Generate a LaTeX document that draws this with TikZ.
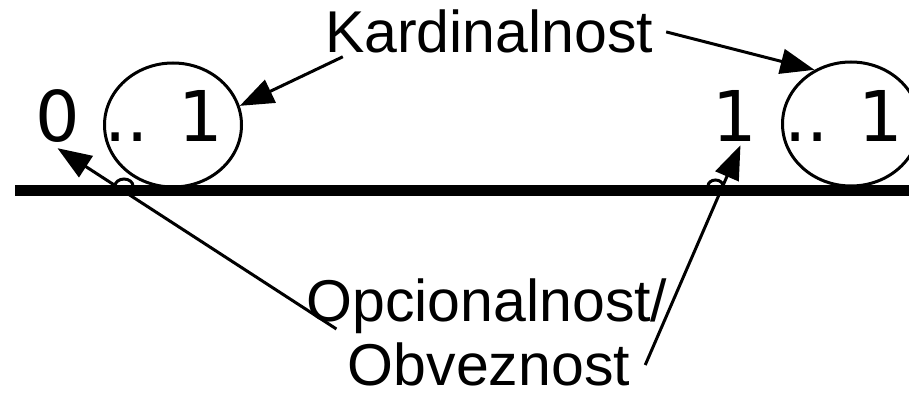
\documentclass[tikz,border=0pt]{standalone}
\usepackage{fontspec}
\setmainfont{Liberation Sans}
\newfontfamily\digitfont{DejaVu Sans}
\usetikzlibrary{arrows.meta,shapes.geometric}

\tikzset{
  label text/.style={inner sep=0pt, font=\fontsize{59}{65}\selectfont},
  digit text/.style={inner sep=0pt, anchor=base west, font=\digitfont\fontsize{70}{70}\selectfont},
  ring/.style={ellipse, draw, line width=3pt, inner sep=0pt,
               minimum width=137pt, minimum height=124pt},
  pointer/.style={line width=3pt, -{Triangle[length=34pt,width=25pt]}},
  hop/.style={line width=3pt},
  bar/.style={line width=11pt}
}

\begin{document}
\begin{tikzpicture}[x=1pt,y=-1pt]
  \useasboundingbox (0,0) rectangle (909,395);

  % relationship line
  \coordinate (lineA) at (15,191);
  \coordinate (lineB) at (915,191);
  \draw[bar] (lineA) -- (lineB);

  % cardinality rings
  \node[ring] (cardL) at (173,125) {};
  \node[ring] (cardR) at (851,124) {};

  % multiplicity texts
  \node[digit text] (zeroL) at (35,142) {0};
  \node[digit text] (cardLtxt) at (104.5,142) {.. 1};
  \node[digit text] (oneR) at (712,142) {1};
  \node[digit text] (cardRtxt) at (784.5,142) {.. 1};

  % labels
  \node[label text, anchor=base] (kard) at (489,53) {Kardinalnost};
  \node[label text, anchor=base] (opc1) at (487,321) {Opcionalnost/};
  \node[label text, anchor=base] (opc2) at (489,385) {Obveznost};

  % pointers
  \draw[pointer] ([xshift=18pt,yshift=-3pt]kard.south west) -- (cardL.16);
  \draw[pointer] ([xshift=13pt]kard.east) -- (cardR.124);
  \draw[pointer] ([xshift=30pt,yshift=-8pt]opc1.base west) -- ([yshift=-5pt]zeroL.south);
  \draw[pointer] ([xshift=15pt,yshift=20pt]opc2.base east) -- ([xshift=6pt,yshift=-3pt]oneR.south);

  % line jumps where the pointers cross the relationship line
  \draw[hop] (115,186) arc[start angle=180, end angle=360, x radius=9, y radius=7];
  \draw[hop] (708,186) arc[start angle=180, end angle=360, x radius=7.5, y radius=6];
\end{tikzpicture}
\end{document}
